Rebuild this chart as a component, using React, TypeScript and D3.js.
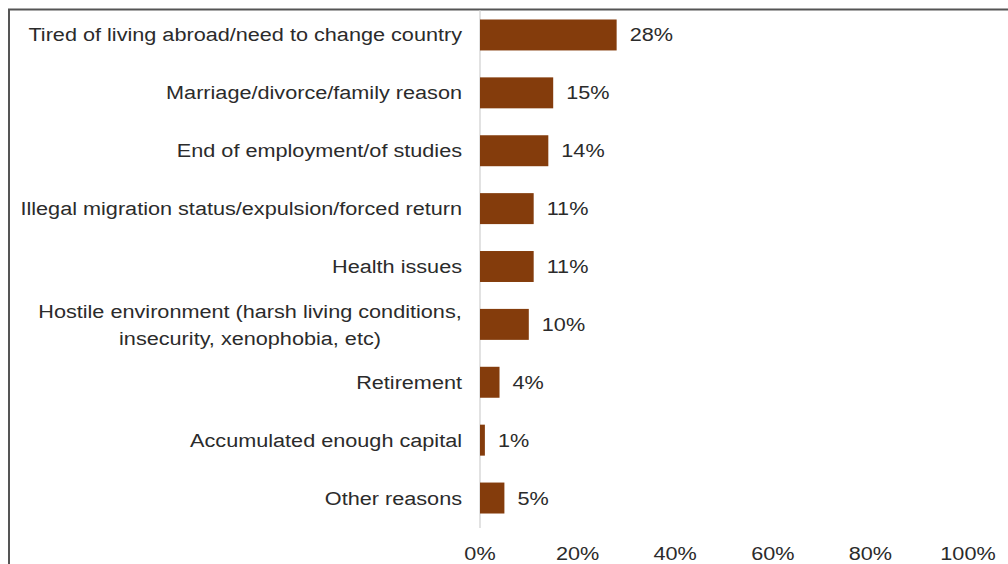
import React from 'react';
import * as d3 from 'd3';

const categories = [
  'Tired of living abroad/need to change country',
  'Marriage/divorce/family reason',
  'End of employment/of studies',
  'Illegal migration status/expulsion/forced return',
  'Health issues',
  'Hostile environment (harsh living conditions,\ninsecurity, xenophobia, etc)',
  'Retirement',
  'Accumulated enough capital',
  'Other reasons',
];
const values = [28, 15, 14, 11, 11, 10, 4, 1, 5];
const tickValues = [0, 20, 40, 60, 80, 100];

const FONT = '"Liberation Sans", Arial, Helvetica, sans-serif';
const FS = 19;
const SX = 1.14;

export default function App() {
  const W = 1008, H = 564;
  const x = d3.scaleLinear().domain([0, 100]).range([480, 968]);
  const y = d3.scaleBand<string>().domain(categories).range([6, 527]).paddingInner(0.465).paddingOuter(0.233);
  const bw = y.bandwidth();
  const textColor = '#2b2b2b';
  const lh = 27;
  return (
    <svg width={W} height={H} style={{ position: 'absolute', left: 0, top: 0, background: '#fff' }} fontFamily={FONT}>
      <rect x={0} y={0} width={W} height={H} fill="#fff" />
      <rect x={9} y={9.5} width={W + 20} height={H + 20} fill="none" stroke="#555" strokeWidth={2} />
      <line x1={x(0)} x2={x(0)} y1={10.5} y2={528} stroke="#d9d9d9" strokeWidth={1.5} />
      {categories.map((c, i) => {
        const cy = (y(c) as number) + bw / 2;
        const lines = c.split('\n');
        return (
          <g key={c}>
            <rect x={x(0)} y={y(c)} width={x(values[i]) - x(0)} height={bw} fill="#843C0C" />
            {lines.length === 1 ? (
              <text transform={`translate(462,${cy}) scale(${SX},1)`} textAnchor="end" dominantBaseline="central" fontSize={FS} fill={textColor}>{c}</text>
            ) : (
              lines.map((l, j) => (
                <text key={j} transform={`translate(250,${cy + 1 + (j - (lines.length - 1) / 2) * lh}) scale(${SX},1)`} textAnchor="middle" dominantBaseline="central" fontSize={FS} fill={textColor}>{l}</text>
              ))
            )}
            <text transform={`translate(${x(values[i]) + 13},${cy}) scale(${SX},1)`} dominantBaseline="central" fontSize={FS} fill={textColor}>{values[i]}%</text>
          </g>
        );
      })}
      {tickValues.map(t => (
        <text key={t} transform={`translate(${x(t)},553) scale(${SX},1)`} textAnchor="middle" dominantBaseline="central" fontSize={FS} fill={textColor}>{t}%</text>
      ))}
    </svg>
  );
}
